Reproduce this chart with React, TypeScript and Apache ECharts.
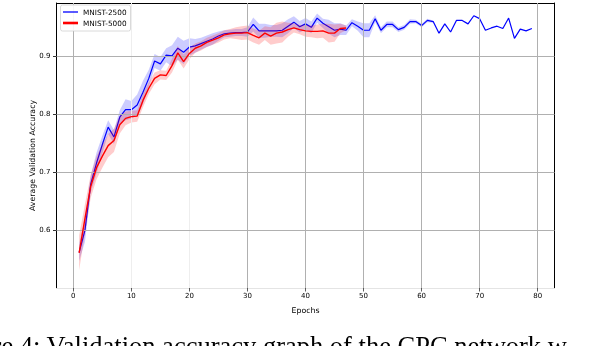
import React, { useEffect, useRef } from "react";
import * as echarts from "echarts";

const epochs2500 = [1, 2, 3, 4, 5, 6, 7, 8, 9, 10, 11, 12, 13, 14, 15, 16, 17, 18, 19, 20, 21, 22, 23, 24, 25, 26, 27, 28, 29, 30, 31, 32, 33, 34, 35, 36, 37, 38, 39, 40, 41, 42, 43, 44, 45, 46, 47, 48, 49, 50, 51, 52, 53, 54, 55, 56, 57, 58, 59, 60, 61, 62, 63, 64, 65, 66, 67, 68, 69, 70, 71, 72, 73, 74, 75, 76, 77, 78, 79];
const mean2500 = [0.562, 0.600, 0.680, 0.716, 0.748, 0.778, 0.761, 0.795, 0.808, 0.808, 0.816, 0.838, 0.862, 0.892, 0.887, 0.902, 0.901, 0.914, 0.907, 0.916, 0.918, 0.922, 0.926, 0.930, 0.935, 0.939, 0.940, 0.941, 0.941, 0.942, 0.955, 0.944, 0.944, 0.944, 0.944, 0.945, 0.952, 0.959, 0.951, 0.956, 0.950, 0.966, 0.957, 0.951, 0.945, 0.947, 0.945, 0.958, 0.952, 0.945, 0.945, 0.965, 0.945, 0.955, 0.955, 0.946, 0.950, 0.960, 0.960, 0.953, 0.962, 0.960, 0.940, 0.956, 0.942, 0.962, 0.962, 0.956, 0.970, 0.965, 0.945, 0.949, 0.952, 0.948, 0.966, 0.931, 0.947, 0.944, 0.948];
const std2500 = [0.015, 0.02, 0.015, 0.018, 0.015, 0.012, 0.012, 0.012, 0.018, 0.015, 0.018, 0.02, 0.015, 0.012, 0.012, 0.012, 0.018, 0.02, 0.02, 0.015, 0.012, 0.01, 0.01, 0.01, 0.008, 0.006, 0.006, 0.006, 0.006, 0.008, 0.012, 0.012, 0.012, 0.01, 0.01, 0.012, 0.012, 0.01, 0.01, 0.01, 0.01, 0.008, 0.008, 0.012, 0.012, 0.01, 0.008, 0.006, 0.008, 0.012, 0.012, 0.006, 0.005, 0.005, 0.005, 0.004, 0.004, 0.004, 0.003, 0.003, 0.003, 0.002, 0, 0, 0, 0, 0, 0, 0, 0, 0, 0, 0, 0, 0, 0, 0, 0, 0];

const epochs5000 = [1, 2, 3, 4, 5, 6, 7, 8, 9, 10, 11, 12, 13, 14, 15, 16, 17, 18, 19, 20, 21, 22, 23, 24, 25, 26, 27, 28, 29, 30, 31, 32, 33, 34, 35, 36, 37, 38, 39, 40, 41, 42, 43, 44, 45, 46, 47];
const mean5000 = [0.561, 0.620, 0.676, 0.708, 0.728, 0.746, 0.755, 0.782, 0.793, 0.796, 0.797, 0.824, 0.845, 0.862, 0.868, 0.867, 0.884, 0.906, 0.891, 0.905, 0.914, 0.918, 0.924, 0.928, 0.932, 0.937, 0.939, 0.940, 0.940, 0.941, 0.936, 0.932, 0.940, 0.935, 0.940, 0.942, 0.946, 0.949, 0.946, 0.944, 0.943, 0.943, 0.944, 0.940, 0.940, 0.948, 0.949];
const std5000 = [0.03, 0.025, 0.02, 0.02, 0.02, 0.02, 0.02, 0.015, 0.012, 0.01, 0.01, 0.012, 0.01, 0.01, 0.008, 0.008, 0.012, 0.012, 0.012, 0.01, 0.008, 0.008, 0.008, 0.008, 0.008, 0.008, 0.008, 0.01, 0.012, 0.012, 0.012, 0.012, 0.012, 0.015, 0.018, 0.018, 0.012, 0.008, 0.008, 0.01, 0.01, 0.012, 0.012, 0.016, 0.015, 0.008, 0.004];

const xTicks = [0, 10, 20, 30, 40, 50, 60, 70, 80];
const yTicks = [0.6, 0.7, 0.8, 0.9];
const fadedXGrid = [10, 20];

const FONT = "DejaVu Sans";

function bandSeries(name: string, epochs: number[], mean: number[], std: number[], fill: string, z: number) {
  const data = epochs.map((e, i) => [e, mean[i] - std[i], mean[i] + std[i]]);
  return {
    type: "custom",
    name,
    silent: true,
    z,
    encode: { x: 0, y: [1, 2] },
    data,
    renderItem: (params: any, api: any) => {
      if (params.dataIndex !== 0) return null;
      const upper = data.map((d) => api.coord([d[0], d[2]]));
      const lower = data.map((d) => api.coord([d[0], d[1]])).reverse();
      return {
        type: "polygon",
        shape: { points: upper.concat(lower) },
        style: { fill, stroke: "none" },
      };
    },
  };
}

export default function App() {
  const ref = useRef<HTMLDivElement>(null);
  useEffect(() => {
    const chart = echarts.init(ref.current!, null, { renderer: "svg" });
    const option: any = {
      animation: false,
      grid: { left: 56.5, right: 35.5, top: 3, bottom: 58, containLabel: false },
      xAxis: [
        {
          type: "value",
          min: -2.9,
          max: 82.9,
          position: "bottom",
          axisLine: { show: true, onZero: false, lineStyle: { color: "#e4e4e4", width: 1 } },
          axisTick: { show: true, customValues: xTicks, length: 3.5, lineStyle: { color: "#333", width: 0.8 } },
          axisLabel: { customValues: xTicks, fontSize: 7, color: "#000", margin: 4, fontFamily: FONT },
          splitLine: { show: false },
          name: "Epochs",
          nameLocation: "middle",
          nameGap: 18,
          nameTextStyle: { fontSize: 7.8, color: "#000", fontFamily: FONT },
        },
        {
          type: "value",
          min: -2.9,
          max: 82.9,
          position: "top",
          axisLine: { show: true, onZero: false, lineStyle: { color: "#000", width: 1 } },
          axisTick: { show: false },
          axisLabel: { show: false },
          splitLine: { show: false },
        },
      ],
      yAxis: [
        {
          type: "value",
          min: 0.5005,
          max: 0.992,
          position: "left",
          axisLine: { show: true, onZero: false, lineStyle: { color: "#000", width: 1 } },
          axisTick: { show: true, customValues: yTicks, length: 3.5, lineStyle: { color: "#000", width: 0.8 } },
          axisLabel: { customValues: yTicks, fontSize: 7, color: "#000", margin: 6, fontFamily: FONT },
          splitLine: { show: false },
          name: "Average Validation Accuracy",
          nameLocation: "middle",
          nameGap: 20,
          nameMoveOverlap: false,
          nameTextStyle: { fontSize: 7.8, color: "#000", fontFamily: FONT, padding: [0, 20, 0, 0] },
        },
        {
          type: "value",
          min: 0.5005,
          max: 0.992,
          position: "right",
          axisLine: { show: true, onZero: false, lineStyle: { color: "#000", width: 1 } },
          axisTick: { show: false },
          axisLabel: { show: false },
          splitLine: { show: false },
        },
      ],
      legend: [
        {
          data: ["MNIST-2500"],
          left: 63,
          top: 8.5,
          padding: 0,
          icon: "rect",
          itemWidth: 15,
          itemHeight: 1.3,
          textStyle: { fontSize: 7.3, color: "#000", fontFamily: FONT },
          z: 20,
        },
        {
          data: ["MNIST-5000"],
          left: 63,
          top: 19.5,
          padding: 0,
          icon: "rect",
          itemWidth: 15,
          itemHeight: 2.6,
          textStyle: { fontSize: 7.3, color: "#000", fontFamily: FONT },
          z: 20,
        },
      ],
      graphic: [
        {
          type: "rect",
          x: 60.5,
          y: 5,
          z: 10,
          shape: { width: 70, height: 26, r: 2 },
          style: { fill: "rgba(255,255,255,0.9)", stroke: "#d0d0d0", lineWidth: 0.8 },
        },
        {
          type: "text",
          x: -56,
          y: 345.5,
          z: 10,
          style: {
            text: "Figure 4: Validation accuracy graph of the CPC network w",
            font: '26.5px "Liberation Serif"',
            fill: "#000",
            verticalAlign: "middle",
          },
        },
      ],
      series: [
        {
          type: "line",
          name: "grid",
          data: [],
          silent: true,
          z: 0,
          markLine: {
            silent: true,
            symbol: ["none", "none"],
            label: { show: false },
            lineStyle: { type: "solid", color: "#b0b0b0", width: 1 },
            data: [
              ...xTicks.map((v) => ({
                xAxis: v,
                lineStyle: { type: "solid", width: 1, color: fadedXGrid.includes(v) ? "#eeeeee" : "#b0b0b0" },
              })),
              ...yTicks.map((v) => ({ yAxis: v })),
            ],
          },
        },
        bandSeries("band2500", epochs2500, mean2500, std2500, "rgba(0,0,255,0.2)", 2),
        {
          type: "line",
          name: "MNIST-2500",
          data: epochs2500.map((e, i) => [e, mean2500[i]]),
          showSymbol: false,
          symbol: "none",
          color: "#0000ff",
          itemStyle: { color: "#0000ff" },
          lineStyle: { color: "#0000ff", width: 1.2 },
          z: 3,
        },
        bandSeries("band5000", epochs5000, mean5000, std5000, "rgba(255,0,0,0.2)", 4),
        {
          type: "line",
          name: "MNIST-5000",
          data: epochs5000.map((e, i) => [e, mean5000[i]]),
          showSymbol: false,
          symbol: "none",
          color: "#ff0000",
          itemStyle: { color: "#ff0000" },
          lineStyle: { color: "#ff0000", width: 1.4 },
          z: 5,
        },
      ],
    };
    chart.setOption(option);
    return () => chart.dispose();
  }, []);
  return <div ref={ref} style={{ position: "fixed", left: 0, top: 0, width: 590, height: 346 }} />;
}
